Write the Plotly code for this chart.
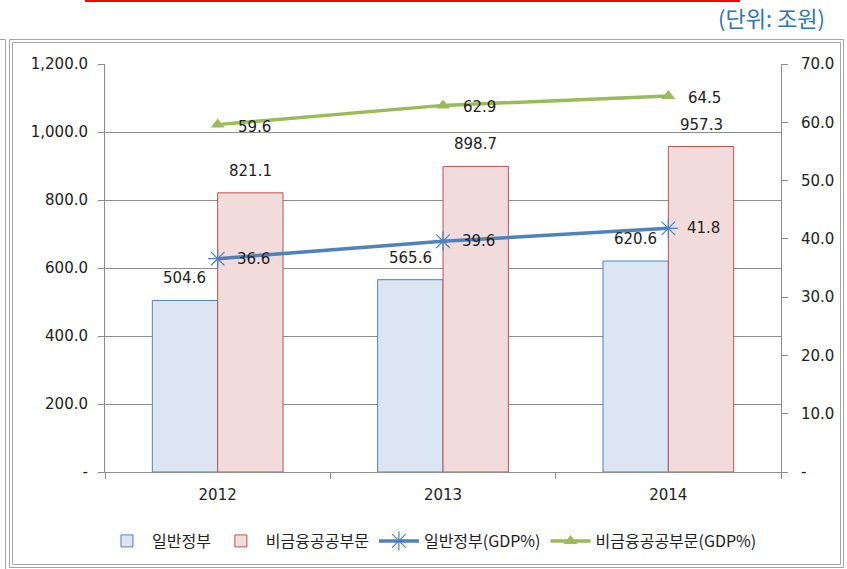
import plotly.graph_objects as go

# Data (unit: trillion won, and % of GDP)
years = ["2012", "2013", "2014"]
general_gov = [504.6, 565.6, 620.6]
nonfin_public = [821.1, 898.7, 957.3]
general_gov_gdp = [36.6, 39.6, 41.8]
nonfin_public_gdp = [59.6, 62.9, 64.5]

left_ticks = [0, 200, 400, 600, 800, 1000, 1200]
left_tick_text = ["-", "200.0", "400.0", "600.0", "800.0", "1,000.0", "1,200.0"]
right_ticks = [0, 10, 20, 30, 40, 50, 60, 70]
right_tick_text = ["-", "10.0", "20.0", "30.0", "40.0", "50.0", "60.0", "70.0"]

W, H = 847, 569
L, R, T, B = 105, 66, 64, 97
NUM_FONT = "DejaVu Sans"
KR_FONT = "Noto Sans CJK KR"
LABEL_FONT = dict(family=NUM_FONT, size=15, color="#222")


def px_x(px):
    return (px - L) / (W - L - R)


def px_y(py):
    return (H - B - py) / (H - T - B)


fig = go.Figure()

fig.add_trace(go.Bar(
    x=years, y=general_gov, name="일반정부",
    marker=dict(color="#dce6f2", line=dict(color="#4f81bd", width=1)),
))
fig.add_trace(go.Bar(
    x=years, y=nonfin_public, name="비금융공공부문",
    marker=dict(color="#f2dcdb", line=dict(color="#c0504d", width=1)),
))
fig.add_trace(go.Scatter(
    x=years, y=general_gov_gdp, name="일반정부(GDP%)", yaxis="y2",
    mode="lines+markers",
    line=dict(color="#4f81bd", width=3.5),
    marker=dict(symbol="asterisk-open", size=16, color="#4f81bd",
                line=dict(color="#4f81bd", width=1.2)),
    cliponaxis=False,
))
fig.add_trace(go.Scatter(
    x=years, y=nonfin_public_gdp, name="비금융공공부문(GDP%)", yaxis="y2",
    mode="lines+markers",
    line=dict(color="#9bbb59", width=3.5),
    marker=dict(symbol="triangle-up", size=12, color="#9bbb59"),
    cliponaxis=False,
))

# value labels: bars get theirs above the bar, lines to the right of each point
# (category positions are given by index on the category axis)
annotations = []
half_bar = 32.7
for i, v in enumerate(general_gov):
    annotations.append(dict(x=i, y=v, xref="x", yref="y", text=f"{v:.1f}",
                            xshift=-half_bar, yshift=11, yanchor="bottom",
                            showarrow=False, font=LABEL_FONT))
for i, v in enumerate(nonfin_public):
    annotations.append(dict(x=i, y=v, xref="x", yref="y", text=f"{v:.1f}",
                            xshift=half_bar, yshift=11, yanchor="bottom",
                            showarrow=False, font=LABEL_FONT))
for i, v in enumerate(general_gov_gdp):
    annotations.append(dict(x=i, y=v, xref="x", yref="y2", text=f"{v:.1f}",
                            xshift=17, yshift=0, xanchor="left",
                            yanchor="middle", showarrow=False, font=LABEL_FONT))
for i, v in enumerate(nonfin_public_gdp):
    annotations.append(dict(x=i, y=v, xref="x", yref="y2", text=f"{v:.1f}",
                            xshift=18, yshift=-2, xanchor="left",
                            yanchor="middle", showarrow=False, font=LABEL_FONT))

annotations.append(dict(
    text="(단위: 조원)", xref="paper", yref="paper",
    x=px_x(827), y=px_y(17), xanchor="right", yanchor="middle",
    showarrow=False,
    font=dict(family=KR_FONT, size=22, color="#2e75b6"),
))

shapes = [
    # red rule at the very top
    dict(type="line", xref="paper", yref="paper",
         x0=px_x(85), x1=px_x(740), y0=px_y(1), y1=px_y(1),
         line=dict(color="#ff0000", width=2)),
    # double frame around the chart area
    dict(type="rect", xref="paper", yref="paper",
         x0=px_x(9.5), x1=px_x(843.5), y0=px_y(39.5), y1=px_y(567.5),
         line=dict(color="#a6a6a6", width=1)),
    dict(type="rect", xref="paper", yref="paper",
         x0=px_x(12.5), x1=px_x(840.5), y0=px_y(42.5), y1=px_y(564.5),
         line=dict(color="#a6a6a6", width=1)),
    # edge of the neighbouring box on the left
    dict(type="line", xref="paper", yref="paper",
         x0=px_x(5.5), x1=px_x(5.5), y0=px_y(39.5), y1=px_y(569),
         line=dict(color="#a6a6a6", width=1)),
    dict(type="line", xref="paper", yref="paper",
         x0=px_x(0), x1=px_x(5.5), y0=px_y(39.5), y1=px_y(39.5),
         line=dict(color="#a6a6a6", width=1)),
]

fig.update_layout(
    width=W, height=H,
    margin=dict(l=L, r=R, t=T, b=B),
    paper_bgcolor="white", plot_bgcolor="white",
    barmode="group", bargap=0.42, bargroupgap=0,
    showlegend=True,
    legend=dict(orientation="h", xref="container", yref="container",
                x=0.51, xanchor="center", y=1 - 541 / H, yanchor="middle",
                font=dict(family=KR_FONT, size=16, color="#222"),
                itemwidth=40, tracegroupgap=0),
    xaxis=dict(
        type="category", tickson="boundaries",
        range=[-0.5, len(years) - 0.5],
        showline=True, linecolor="#8c8c8c", linewidth=1,
        ticks="outside", ticklen=6, tickcolor="#8c8c8c",
        ticklabelstandoff=9,
        tickfont=dict(family=NUM_FONT, size=15, color="#222"),
        showgrid=False,
    ),
    yaxis=dict(
        range=[0, 1200], tickvals=left_ticks, ticktext=left_tick_text,
        showline=True, linecolor="#8c8c8c", linewidth=1,
        ticks="outside", ticklen=6, tickcolor="#8c8c8c",
        ticklabelstandoff=7,
        showgrid=True, gridcolor="#8c8c8c", gridwidth=1,
        tickfont=dict(family=NUM_FONT, size=15, color="#222"),
        zeroline=False,
    ),
    yaxis2=dict(
        range=[0, 70], tickvals=right_ticks, ticktext=right_tick_text,
        overlaying="y", side="right",
        showline=True, linecolor="#8c8c8c", linewidth=1,
        ticks="outside", ticklen=6, tickcolor="#8c8c8c",
        ticklabelstandoff=10,
        showgrid=False, zeroline=False,
        tickfont=dict(family=NUM_FONT, size=15, color="#222"),
    ),
    shapes=shapes,
    annotations=annotations,
)

fig.write_html("out.html")
